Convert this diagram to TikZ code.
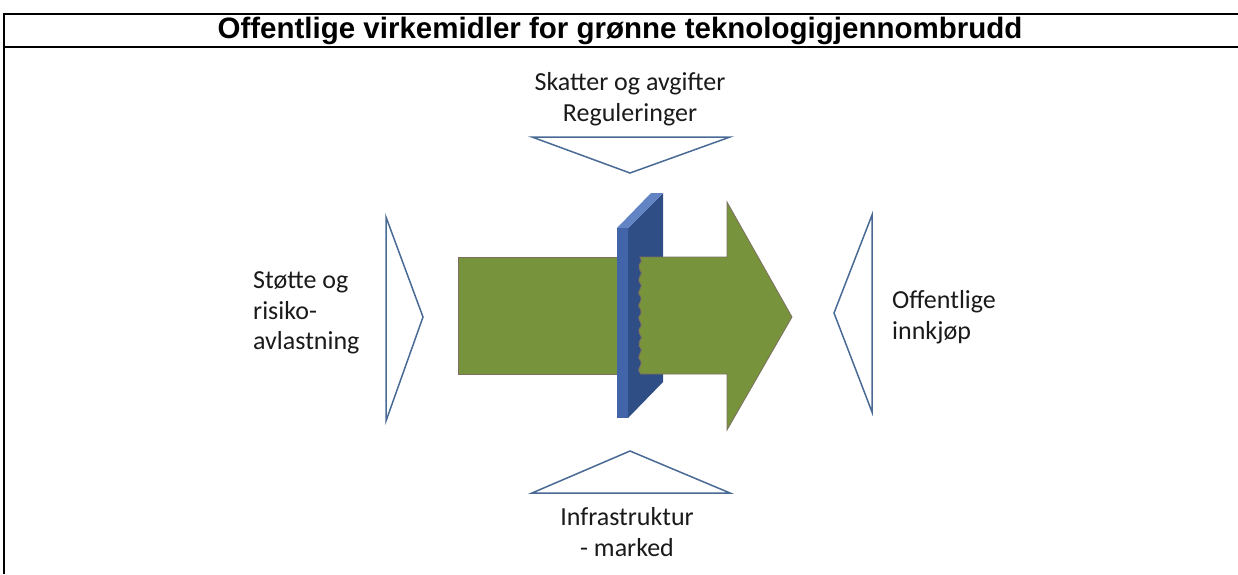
\documentclass[tikz,border=0pt]{standalone}
\usepackage{fontspec}
\setmainfont{Carlito}
\newfontfamily\titlefont{Liberation Sans}
\definecolor{arrowgreen}{HTML}{77933C}
\definecolor{arrowedge}{HTML}{7E6F62}
\definecolor{platefront}{HTML}{4264A8}
\definecolor{plateside}{HTML}{2F4E86}
\definecolor{platetop}{HTML}{6384C4}
\definecolor{wedge}{HTML}{4A6A96}
\definecolor{labeltext}{HTML}{1A1A1A}
\begin{document}
\begin{tikzpicture}[x=1pt,y=-1pt,
  frameline/.style={line width=2pt,black},
  wedgeshape/.style={draw=wedge,line width=1.5pt,line join=miter},
  lbl/.style={font=\fontsize{26}{30.5}\selectfont,text=labeltext,inner sep=0pt},
  greenpart/.style={fill=arrowgreen,draw=arrowedge,line width=0.8pt}]
\useasboundingbox (0,0) rectangle (1238,574);

% frame of the table cell
\draw[frameline] (4,574) -- (4,14) -- (1238,14);
\draw[frameline] (4,47) -- (1238,47);
\node[font=\titlefont\bfseries\fontsize{29.5}{34}\selectfont,inner sep=0pt] (title) at (620,31)
  {Offentlige virkemidler for grønne teknologigjennombrudd};

% four wedges pointing at the central arrow
\draw[wedgeshape] (532,137) -- (730,137) -- (630,173) -- cycle;
\draw[wedgeshape] (532,493) -- (730,493) -- (630,451) -- cycle;
\draw[wedgeshape] (386,217) -- (386,421) -- (423,317) -- cycle;
\draw[wedgeshape] (872,215) -- (872,412) -- (834,313) -- cycle;

% labels
\node[lbl,align=center] (top) at (630,99) {Skatter og avgifter\\Reguleringer};
\node[lbl,align=center] (bottom) at (627,532) {Infrastruktur\\- marked};
\node[lbl,align=left,anchor=west] (left) at (253,313) {Støtte og\\risiko-\\avlastning};
\node[lbl,align=left,anchor=west] (right) at (892,317) {Offentlige\\innkjøp};

% tail of the green arrow, behind the barrier
\path[greenpart] (458,257) rectangle (630,374);

% the barrier plate
\fill[plateside] (628,228) -- (663,193) -- (663,382) -- (628,418) -- cycle;
\fill[platetop] (617,228) -- (628,228) -- (663,193) -- (651,193) -- cycle;
\fill[platefront] (617,228) rectangle (628,418);

% head of the green arrow, broken through the barrier
\path[greenpart] (727,257) -- (727,202) -- (792,317) -- (727,430) -- (727,374)
  -- (640,374)
  -- plot[smooth,domain=374:257,samples=30] ({640+1.4*sin(\x*28)},\x)
  -- cycle;
\end{tikzpicture}
\end{document}
